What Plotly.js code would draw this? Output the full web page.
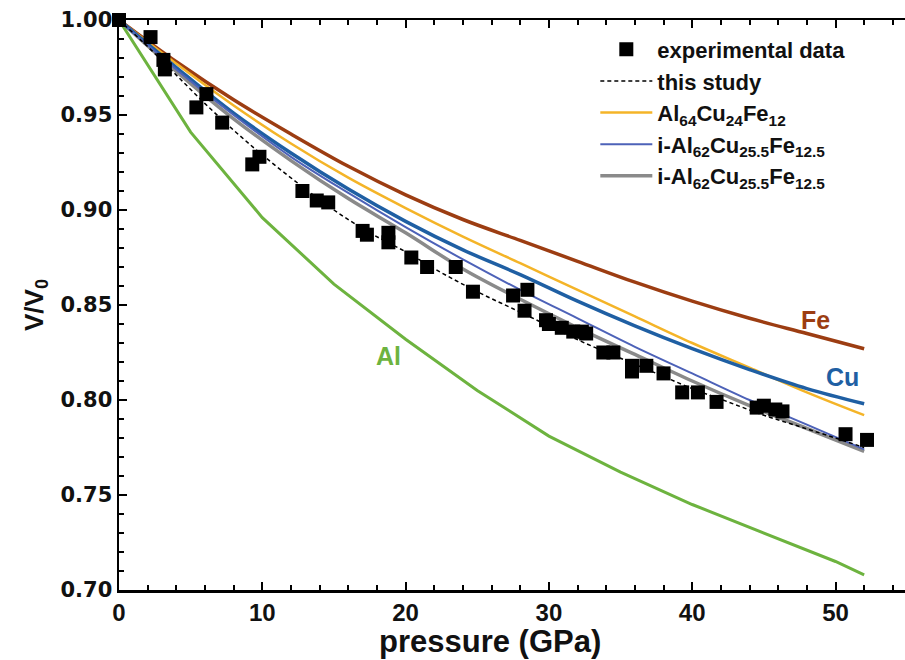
<!DOCTYPE html>
<html>
<head>
<meta charset="utf-8">
<script src="https://cdn.plot.ly/plotly-3.0.1.min.js"></script>
<style>html,body{margin:0;padding:0;background:#fff;}#chart{width:905px;height:660px;}</style>
</head>
<body>
<div id="chart"></div>
<script>
// experimental data
var expP = [0, 2.2, 3.1, 3.2, 5.4, 6.1, 7.2, 9.3, 9.8, 12.8, 13.8, 14.6, 17.0, 17.3, 18.8, 18.8, 20.4, 21.5, 23.5, 24.7, 27.5, 28.5, 28.3, 29.8, 30.0, 30.9, 31.7, 32.3, 32.6, 33.8, 34.5, 35.8, 35.8, 36.8, 38.0, 39.3, 40.4, 41.7, 44.5, 45.0, 45.8, 46.3, 50.7, 52.2];
var expV = [1.000, 0.991, 0.979, 0.974, 0.954, 0.961, 0.946, 0.924, 0.928, 0.910, 0.905, 0.904, 0.889, 0.887, 0.888, 0.883, 0.875, 0.870, 0.870, 0.857, 0.855, 0.858, 0.847, 0.842, 0.840, 0.838, 0.836, 0.836, 0.835, 0.825, 0.825, 0.818, 0.815, 0.818, 0.814, 0.804, 0.804, 0.799, 0.796, 0.797, 0.795, 0.794, 0.782, 0.779];

// this study (dashed fit)
var fitP = [0, 2, 4, 6, 8, 10, 12.5, 15, 17.5, 20, 22.5, 25, 27.5, 30, 32.5, 35, 37.5, 40, 42.5, 45, 47.5, 50, 52];
var fitV = [1.000, 0.986, 0.971, 0.956, 0.942, 0.929, 0.914, 0.900, 0.888, 0.878, 0.867, 0.857, 0.848, 0.839, 0.830, 0.822, 0.814, 0.806, 0.799, 0.792, 0.786, 0.780, 0.775];

// model curves
var curveP = [0, 4, 8, 12, 16, 20, 24, 28, 32, 36, 40, 44, 48, 52];
var feV     = [1.000, 0.978, 0.958, 0.940, 0.923, 0.908, 0.895, 0.884, 0.873, 0.862, 0.852, 0.843, 0.835, 0.827];
var cuV     = [1.000, 0.975, 0.951, 0.930, 0.911, 0.894, 0.879, 0.866, 0.852, 0.839, 0.827, 0.816, 0.806, 0.798];
var alcufeV = [1.000, 0.977, 0.955, 0.935, 0.917, 0.901, 0.886, 0.872, 0.858, 0.844, 0.830, 0.817, 0.804, 0.792];
var iBlueV  = [1.000, 0.974, 0.950, 0.928, 0.909, 0.891, 0.874, 0.858, 0.843, 0.828, 0.814, 0.800, 0.787, 0.774];
var iGrayV  = [1.000, 0.973, 0.948, 0.926, 0.906, 0.888, 0.869, 0.853, 0.838, 0.824, 0.810, 0.797, 0.785, 0.773];

var alP = [0, 5, 10, 15, 20, 25, 30, 35, 40, 45, 50, 52];
var alV = [1.000, 0.941, 0.896, 0.861, 0.832, 0.805, 0.781, 0.762, 0.745, 0.730, 0.715, 0.708];

var legendNames = ["experimental data", "this study", "Al<sub>64</sub>Cu<sub>24</sub>Fe<sub>12</sub>", "i-Al<sub>62</sub>Cu<sub>25.5</sub>Fe<sub>12.5</sub>", "i-Al<sub>62</sub>Cu<sub>25.5</sub>Fe<sub>12.5</sub>"];

var traces = [
  {x: alP, y: alV, mode: "lines", line: {color: "#6db33f", width: 3}, showlegend: false, name: "Al"},
  {x: curveP, y: feV, mode: "lines", line: {color: "#9c3d12", width: 3.5, shape: "spline"}, showlegend: false, name: "Fe"},
  {x: curveP, y: alcufeV, mode: "lines", line: {color: "#f4b428", width: 2.5, shape: "spline"}, name: legendNames[2], legendrank: 3},
  {x: curveP, y: iGrayV, mode: "lines", line: {color: "#8a8a8a", width: 3.5, shape: "spline"}, name: legendNames[4], legendrank: 5},
  {x: curveP, y: cuV, mode: "lines", line: {color: "#1f5fa3", width: 3.5, shape: "spline"}, showlegend: false, name: "Cu"},
  {x: curveP, y: iBlueV, mode: "lines", line: {color: "#4d62b8", width: 2, shape: "spline"}, name: legendNames[3], legendrank: 4},
  {x: fitP, y: fitV, mode: "lines", line: {color: "#000", width: 1.5, dash: "4px,3px", shape: "spline"}, name: legendNames[1], legendrank: 2},
  {x: expP, y: expV, mode: "markers", marker: {symbol: "square", size: 14, color: "#000"}, name: legendNames[0], legendrank: 1, cliponaxis: false}
];

var F = "Liberation Sans, Arial, sans-serif";
var layout = {
  width: 905, height: 660,
  paper_bgcolor: "#fff", plot_bgcolor: "#fff",
  margin: {l: 119, r: 0, t: 20, b: 70},
  showlegend: true,
  legend: {x: 0.606, y: 0.985, xanchor: "left", yanchor: "top", bgcolor: "rgba(0,0,0,0)",
           font: {family: F, size: 22, color: "#111", weight: "bold"}, tracegroupgap: 0, itemwidth: 52, traceorder: "normal"},
  xaxis: {
    range: [0, 54.85], showgrid: false, zeroline: false,
    showline: true, linecolor: "#000", linewidth: 2.5, mirror: "ticks",
    ticks: "inside", ticklen: 8, tickwidth: 2, tickcolor: "#000",
    tick0: 0, dtick: 10,
    minor: {dtick: 2, ticks: "inside", ticklen: 5, tickwidth: 2, tickcolor: "#000"},
    tickfont: {family: F, size: 24, color: "#111", weight: "bold"}
  },
  yaxis: {
    range: [0.70, 1.00], showgrid: false, zeroline: false,
    showline: true, linecolor: "#000", linewidth: 2.5, mirror: false,
    ticks: "inside", ticklen: 8, tickwidth: 2, tickcolor: "#000",
    tick0: 0.70, dtick: 0.05, tickformat: ".2f",
    minor: {dtick: 0.01, ticks: "inside", ticklen: 5, tickwidth: 2, tickcolor: "#000"},
    tickfont: {family: "DejaVu Sans, sans-serif", size: 21, color: "#111", weight: "bold"},
    title: {text: "V/V<sub>0</sub>", font: {family: F, size: 26, color: "#111", weight: "bold"}, standoff: 10}
  },
  annotations: [
    {x: 48.6, y: 0.842, xref: "x", yref: "y", text: "Fe", showarrow: false, font: {family: F, size: 25, color: "#9c3d12", weight: "bold"}},
    {x: 50.5, y: 0.812, xref: "x", yref: "y", text: "Cu", showarrow: false, font: {family: F, size: 25, color: "#1f5fa3", weight: "bold"}},
    {x: 18.8, y: 0.823, xref: "x", yref: "y", text: "Al", showarrow: false, font: {family: F, size: 25, color: "#6db33f", weight: "bold"}},
    {x: (490 - 119) / 786, y: -0.09, xref: "paper", yref: "paper", xanchor: "center", yanchor: "middle",
     text: "pressure (GPa)", showarrow: false, font: {family: F, size: 31, color: "#111", weight: "bold"}}
  ]
};

Plotly.newPlot("chart", traces, layout, {displayModeBar: false, staticPlot: true});
</script>
</body>
</html>
